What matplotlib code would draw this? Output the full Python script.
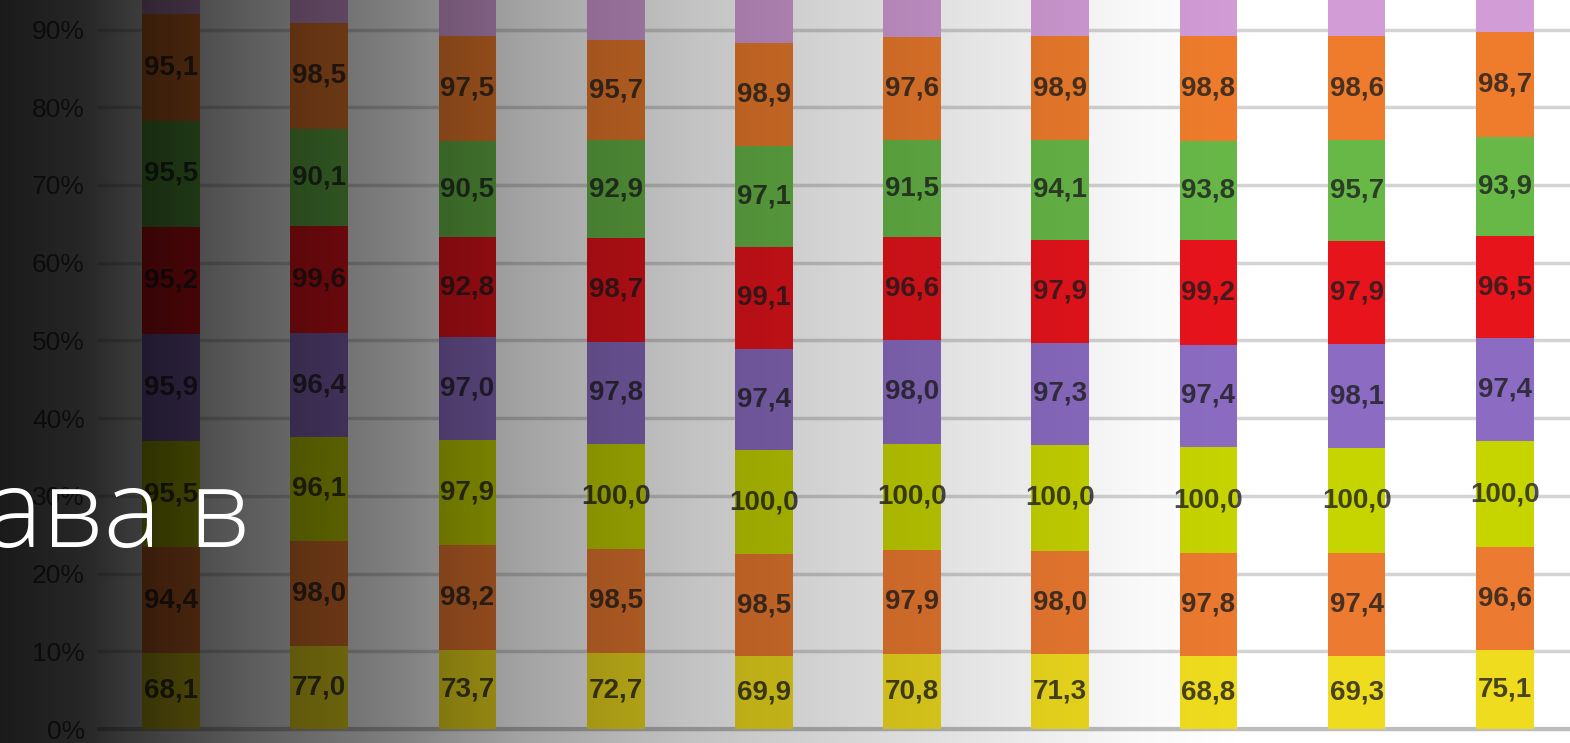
import numpy as np
import matplotlib.pyplot as plt

# values per series, bottom to top, one entry per column
yellow = [68.1, 77.0, 73.7, 72.7, 69.9, 70.8, 71.3, 68.8, 69.3, 75.1]
orange1 = [94.4, 98.0, 98.2, 98.5, 98.5, 97.9, 98.0, 97.8, 97.4, 96.6]
lime = [95.5, 96.1, 97.9, 100.0, 100.0, 100.0, 100.0, 100.0, 100.0, 100.0]
purple = [95.9, 96.4, 97.0, 97.8, 97.4, 98.0, 97.3, 97.4, 98.1, 97.4]
red = [95.2, 99.6, 92.8, 98.7, 99.1, 96.6, 97.9, 99.2, 97.9, 96.5]
green = [95.5, 90.1, 90.5, 92.9, 97.1, 91.5, 94.1, 93.8, 95.7, 93.9]
orange2 = [95.1, 98.5, 97.5, 95.7, 98.9, 97.6, 98.9, 98.8, 98.6, 98.7]
lilac = [56, 66, 79, 84, 88, 80, 80, 80, 80, 76]  # top series, labels cut off

series = [yellow, orange1, lime, purple, red, green, orange2, lilac]
colors = ["#F0DC1E", "#EC7A30", "#C6D400", "#8B6CC2", "#E8141C",
          "#68B848", "#EE7C2C", "#D29CD6"]
yticks = [0, 10, 20, 30, 40, 50, 60, 70, 80, 90]

data = np.array(series)
pct = data / data.sum(axis=0) * 100
x = np.arange(data.shape[1])

fig = plt.figure(figsize=(15.7, 7.43), dpi=100)
ax = fig.add_axes([0, 0, 1, 1])
ax.set_facecolor("white")

ax.hlines(yticks, -0.5, 9.6, color="#D4D4D4", lw=2.5, zorder=1)
ax.hlines(0, -0.5, 9.6, color="#BDBDBD", lw=3, zorder=1)

bottom = np.zeros(len(x))
for k in range(len(series)):
    bars = ax.bar(x, pct[k], 0.39, bottom=bottom, color=colors[k], zorder=2)
    if k < len(series) - 1:
        labels = [("%.1f" % v).replace(".", ",") for v in series[k]]
        ax.bar_label(bars, labels=labels, label_type="center",
                     fontsize=20, fontweight="bold", family="Liberation Sans",
                     color="#1E1E1E", alpha=0.8)
    bottom += pct[k]

ax.set_xlim(-1.154, 9.44)
ax.set_ylim(-1.8, 93.8)
ax.set_xticks([])
ax.set_yticks(yticks)
ax.set_yticklabels([f"{t}%" for t in yticks], fontsize=19,
                   family="Liberation Sans", color="#5A5A5A")
ax.tick_params(axis="y", length=0, pad=-61)
for s in ax.spines.values():
    s.set_visible(False)

# dark fade over the left side of the picture
ov = fig.add_axes([0, 0, 1, 1], zorder=5)
px = np.arange(1570)
alpha = np.interp(px, [0, 85, 130, 250, 400, 515, 690, 835, 985, 1130, 1250],
                  [0.9, 0.85, 0.78, 0.64, 0.5, 0.37, 0.24, 0.17, 0.1, 0.03, 0])
grad = np.zeros((1, 1570, 4))
grad[0, :, 3] = alpha
ov.imshow(grad, aspect="auto", extent=[0, 1, 0, 1])
ov.set_xlim(0, 1)
ov.set_ylim(0, 1)
ov.axis("off")

fig.text(250 / 1570, (743 - 547) / 743, "ава в", ha="right", va="baseline",
         color="white", fontsize=78, family="Open Sans", fontweight="light",
         zorder=10)

fig.savefig("out.png", dpi=100)
